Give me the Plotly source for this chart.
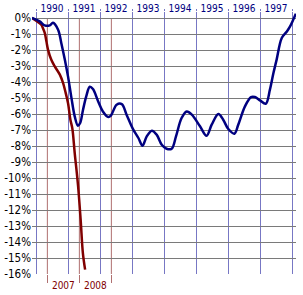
import plotly.graph_objects as go

# Blue series (1990s) - fractional years and % change
blue_years = [1989.875, 1990.115, 1990.27, 1990.43, 1990.53, 1990.69, 1990.79, 1990.90,
              1991.0, 1991.10, 1991.21, 1991.31, 1991.38, 1991.47, 1991.57, 1991.68,
              1991.78, 1991.94, 1992.09, 1992.26, 1992.34, 1992.52, 1992.68, 1992.83,
              1993.04, 1993.20, 1993.33, 1993.46, 1993.62, 1993.77, 1993.93, 1994.08,
              1994.24, 1994.375, 1994.55, 1994.71, 1994.87, 1995.125, 1995.33, 1995.49,
              1995.70, 1995.85, 1996.01, 1996.20, 1996.32, 1996.53, 1996.72, 1996.84,
              1997.0, 1997.18, 1997.31, 1997.42, 1997.52, 1997.68, 1997.84, 1997.94,
              1998.04, 1998.12]
blue_values = [0, -0.21, -0.46, -0.46, -0.3, -0.73, -1.56, -2.6,
               -3.65, -4.9, -6.15, -6.73, -6.56, -5.73, -4.9, -4.3,
               -4.44, -5.2, -5.84, -6.19, -6.1, -5.42, -5.38, -6.04,
               -6.98, -7.5, -7.98, -7.4, -7.04, -7.29, -7.92, -8.17,
               -8.17, -7.4, -6.25, -5.84, -6.04, -6.77, -7.36, -6.67,
               -6.0, -6.36, -6.94, -7.23, -6.67, -5.52, -4.94, -4.94,
               -5.15, -5.36, -4.48, -3.44, -2.6, -1.25, -0.84, -0.52,
               -0.1, 0.27]

# Red series (2000s)
red_years = [2006.52, 2006.81, 2006.86, 2006.92, 2006.97, 2007.02, 2007.12, 2007.23,
             2007.39, 2007.49, 2007.56, 2007.645, 2007.72, 2007.78, 2007.855, 2007.96,
             2008.04, 2008.11, 2008.18]
red_values = [0, -0.42, -0.63, -0.94, -1.46, -1.98, -2.6, -3.02,
              -3.54, -4.06, -4.58, -5.31, -6.36, -6.9, -8.44, -10.5,
              -12.6, -14.7, -15.73]

blue_grid_years = list(range(1990, 1999))
blue_label_years = list(range(1990, 1998))
red_grid_years = [2007, 2008, 2009]
red_label_years = [2007, 2008]
y_ticks = list(range(0, -17, -1))

BLUE = "#000080"
RED = "#800000"
RED_GRID = "#b07070"
BLUE_GRID = "#7777c4"
FONT = "DejaVu Sans Condensed, DejaVu Sans, sans-serif"

fig = go.Figure()

# red year gridlines span only the 0% .. -16% band
for yr in red_grid_years:
    fig.add_shape(type="line", xref="x", yref="y", x0=yr, x1=yr,
                  y0=max(y_ticks), y1=min(y_ticks),
                  line=dict(color=RED_GRID, width=1), layer="below")

fig.add_trace(go.Scatter(x=red_years, y=red_values, mode="lines",
                         line=dict(color=RED, width=2.5, shape="spline"),
                         xaxis="x", yaxis="y", showlegend=False))
fig.add_trace(go.Scatter(x=blue_years, y=blue_values, mode="lines",
                         line=dict(color=BLUE, width=2.5, shape="spline"),
                         xaxis="x2", yaxis="y", showlegend=False))

fig.update_layout(
    width=303, height=295,
    margin=dict(l=32, r=7, t=12, b=21),
    paper_bgcolor="white", plot_bgcolor="white",
    showlegend=False,
    xaxis=dict(
        range=[2006.52, 2014.77], side="bottom", automargin=False,
        tickvals=[y + 0.5 for y in red_label_years],
        ticktext=[str(y) for y in red_label_years],
        ticks="", showgrid=False, zeroline=False, showline=False,
        ticklabelstandoff=4,
        tickfont=dict(family=FONT, size=10, color=RED),
        minor=dict(tickvals=red_grid_years, showgrid=False,
                   ticks="outside", ticklen=8, tickcolor=RED_GRID, tickwidth=1),
    ),
    xaxis2=dict(
        range=[1989.875, 1998.125], side="top", overlaying="x", automargin=False,
        tickvals=[y + 0.5 for y in blue_label_years],
        ticktext=[str(y) for y in blue_label_years],
        ticks="", showgrid=False, zeroline=False, showline=False,
        ticklabelstandoff=-3,
        tickfont=dict(family=FONT, size=10, color=BLUE),
        minor=dict(tickvals=blue_grid_years, showgrid=True, gridcolor=BLUE_GRID,
                   gridwidth=1, ticks="outside", ticklen=2, tickcolor=BLUE_GRID),
    ),
    yaxis=dict(
        range=[-16, 0.375], automargin=False,
        tickvals=y_ticks,
        ticktext=[f"{v}%" for v in y_ticks],
        showgrid=True, gridcolor="#7a7a7a", gridwidth=1,
        zeroline=False, showline=False, ticks="",
        tickfont=dict(family=FONT, size=11.5, color="black"),
    ),
)

fig.write_html("out.html")
